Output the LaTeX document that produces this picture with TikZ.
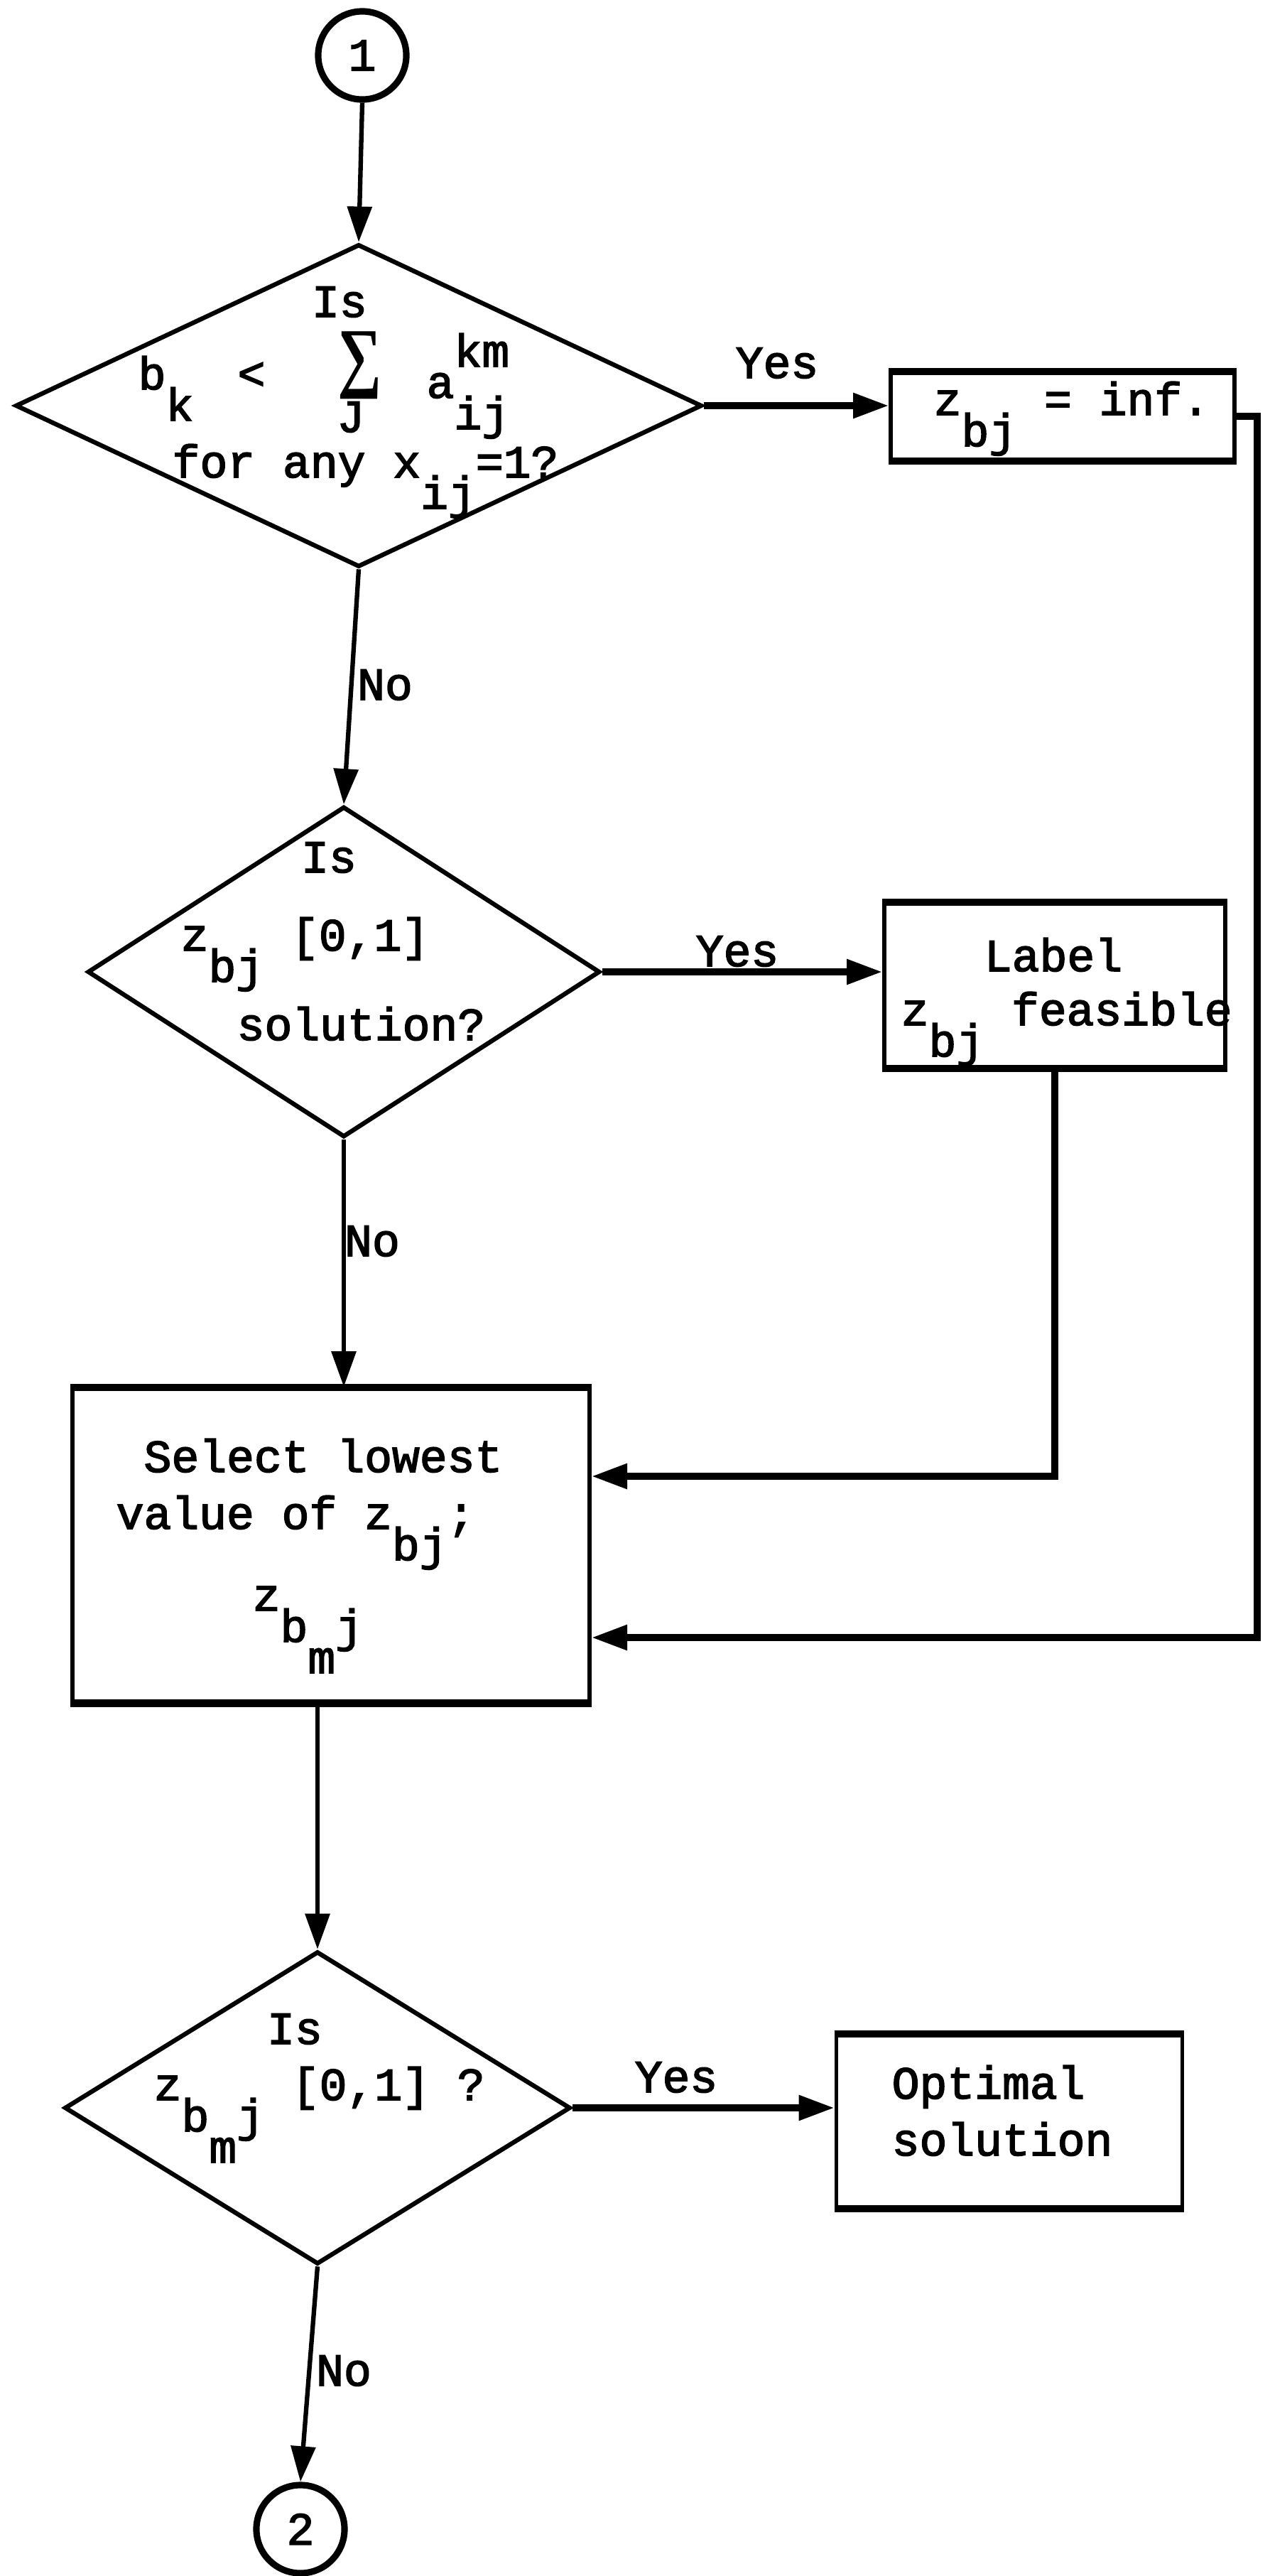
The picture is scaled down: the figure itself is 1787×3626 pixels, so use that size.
\documentclass[tikz,border=0pt]{standalone}
\usepackage{fontspec}
\setmainfont{Liberation Mono}[FakeBold=2.5]
\newfontfamily\sumfont{Liberation Serif}
\usetikzlibrary{shapes.geometric,arrows.meta}

% typewriter style half-line shifts
\newcommand{\lo}[1]{\raisebox{-0.44cm}{#1}}
\newcommand{\hi}[1]{\raisebox{0.44cm}{#1}}

\begin{document}
\begin{tikzpicture}[x=0.01cm,y=-0.01cm,
    every node/.style={font=\fontsize{18.4}{22}\selectfont, inner sep=0pt},
    decision/.style={diamond, draw, line width=1.8pt},
    process/.style={rectangle, draw, line width=1.6pt},
    joint/.style={circle, draw, line width=2.6pt, minimum size=1.24cm},
    flow/.style={line width=1.8pt, -{Triangle[length=0.5cm,width=0.34cm]}},
    heavy/.style={line width=2.6pt}]
      \useasboundingbox (0,0) rectangle (1787,3626);
      % off-page connectors
      \node[joint] (c1) at (510,78) {1};
      \node[joint] (c2) at (423,3560) {2};
      % decisions
      \node[decision, minimum width=9.66cm, minimum height=4.54cm] (d1) at (505,571) {};
      \node[decision, minimum width=7.21cm, minimum height=4.65cm] (d2) at (484,1368) {};
      \node[decision, minimum width=7.12cm, minimum height=4.40cm] (d3) at (447,2967) {};
      % boxes
      \node[process, minimum width=4.84cm, minimum height=1.22cm] (inf) at (1496,586) {};
      \node[process, minimum width=4.80cm, minimum height=2.29cm] (feas) at (1485,1387) {};
      \node[process, minimum width=7.28cm, minimum height=4.40cm] (sel) at (466,2175) {};
      \node[process, minimum width=4.87cm, minimum height=2.42cm] (opt) at (1421,2986) {};
      % ruled top and bottom edges
      \foreach \b in {inf,feas,sel,opt} {
        \draw[heavy] (\b.north west) -- (\b.north east) (\b.south west) -- (\b.south east);
      }
      % first test
      \node[anchor=base] (d1is) at (478,446) {Is};
      \node[anchor=base west] (d1b) at (194,548) {b\lo{k}};
      \node[anchor=base] (d1lt) at (354,548) {<};
      \node (d1sum) at (507,514) {\resizebox*{0.62cm}{0.95cm}{\sumfont\bfseries ∑}};
      \node[anchor=base] (d1J) at (494,608) {J};
      \node[anchor=base west] (d1a) at (600,560) {a\rlap{\hi{km}}\lo{ij}};
      \node[anchor=base west] (d1for) at (242,672) {for any x\lo{ij}=1?};
      \node[anchor=base west] (inftxt) at (1314,584) {z\lo{bj} = inf.};
      % second test
      \node[anchor=base] (d2is) at (463,1228) {Is};
      \node[anchor=base west] (d2z) at (254,1338) {z\lo{bj} [0,1]};
      \node[anchor=base west] (d2sol) at (333,1464) {solution?};
      \node[anchor=base] (feas1) at (1483,1367) {Label};
      \node[anchor=base west] (feas2) at (1268,1443) {z\lo{bj} feasible};
      % selection
      \node[anchor=base] (sel1) at (455,2072) {Select lowest};
      \node[anchor=base west] (sel2) at (163,2152) {value of z\lo{bj};};
      \node[anchor=base west] (sel3) at (355,2267) {z\lo{b\lo{m}j}};
      % third test
      \node[anchor=base] (d3is) at (415,2877) {Is};
      \node[anchor=base west] (d3z) at (216,2956) {z\lo{b\lo{m}j} [0,1] ?};
      \node[anchor=base west] (opt1) at (1255,2954) {Optimal};
      \node[anchor=base west] (opt2) at (1255,3034) {solution};
      % branch labels
      \node[anchor=base] (yes1) at (1094,532) {Yes};
      \node[anchor=base] (yes2) at (1038,1360) {Yes};
      \node[anchor=base] (yes3) at (952,2945) {Yes};
      \node[anchor=base] (no1) at (542,985) {No};
      \node[anchor=base] (no2) at (524,1768) {No};
      \node[anchor=base] (no3) at (484,3358) {No};
      % flow lines
      \draw[flow] (c1.south) -- (d1.north);
      \draw[flow] (d1.south) -- (d2.north);
      \draw[flow] (d2.south) -- (d2.south |- sel.north);
      \draw[flow] (sel.south -| d3.north) -- (d3.north);
      \draw[flow] (d3.south) -- (c2.north);
      \draw[flow, heavy] (d1.east) -- (d1.east -| inf.west);
      \draw[flow, heavy] (d2.east) -- (d2.east -| feas.west);
      \draw[flow, heavy] (d3.east) -- (d3.east -| opt.west);
      % return lines into the selection box
      \coordinate (feasbend) at (1485,2078);
      \coordinate (loopbend) at (1770,2305);
      \draw[flow, heavy] (feas.south) |- (sel.east |- feasbend);
      \draw[flow, heavy] (inf.east) -| (loopbend) -- (sel.east |- loopbend);
    \end{tikzpicture}
\end{document}
